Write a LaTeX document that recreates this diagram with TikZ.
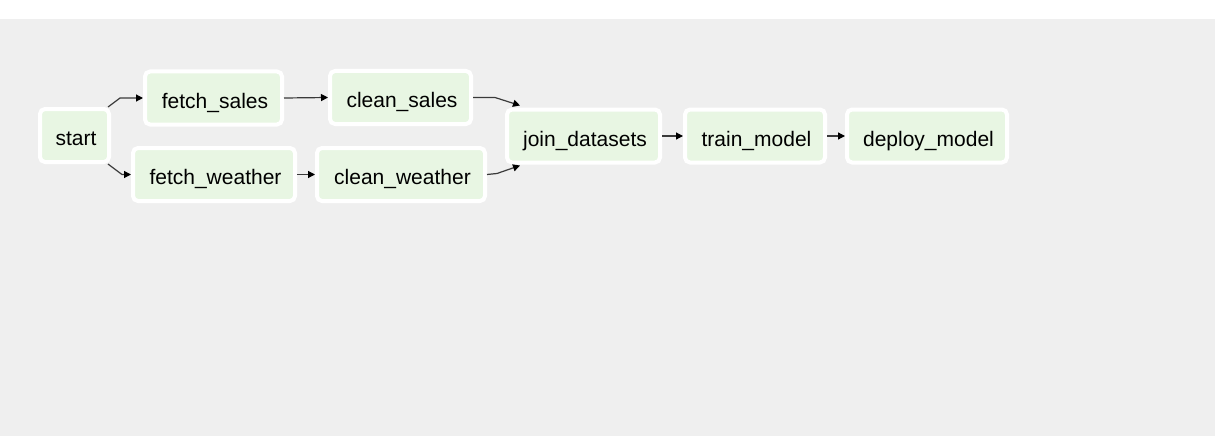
\documentclass[tikz,border=0pt]{standalone}
\usepackage{fontspec}
\setmainfont{Liberation Sans}
\usetikzlibrary{arrows.meta,calc}
\definecolor{bggray}{HTML}{EFEFEF}
\definecolor{taskfill}{HTML}{E8F6E3}
\definecolor{edgecol}{HTML}{3A3A3A}
\tikzset{
  task/.style={draw=white, line width=4pt, fill=taskfill, rounded corners=5pt,
    inner sep=0pt, outer sep=2pt, minimum height=53pt,
    text height=25pt, text depth=4.5pt,
    execute at begin node={\hspace*{3pt}},
    font=\fontsize{21}{25}\selectfont, text=black},
  edge/.style={draw=edgecol, line width=1.2pt,
    -{Triangle[length=7pt,width=7pt,color=black]}},
}
\begin{document}
\begin{tikzpicture}[x=1pt,y=-1pt]
\useasboundingbox (0,0) rectangle (1215,436);
\fill[white] (0,0) rectangle (1215,436);
\fill[bggray] (0,19) rectangle (1215,436);

\node[task, minimum width=69pt]  (start)  at (74.5,135.5) {start};
\node[task, minimum width=137pt] (fs)     at (213.5,98) {fetch\_sales};
\node[task, minimum width=162pt] (fw)     at (214,174.5) {fetch\_weather};
\node[task, minimum width=141pt] (cs)     at (400.5,97.5) {clean\_sales};
\node[task, minimum width=168pt] (cw)     at (401,174.5) {clean\_weather};
\node[task, minimum width=153pt] (join)   at (583.5,136) {join\_datasets};
\node[task, minimum width=140pt] (train)  at (755,136) {train\_model};
\node[task, minimum width=160pt] (deploy) at (927,136) {deploy\_model};

\draw[edge] ($(start.north east)+(-3,0)$) -- ($(fs.west)+(-23,0)$) -- (fs.west);
\draw[edge] ($(start.south east)+(-3,0)$) -- ($(fw.west)+(-9,0)$) -- (fw.west);
\draw[edge] (fs.east) -- (cs.west);
\draw[edge] (fw.east) -- (cw.west);
\draw[edge] (cs.east) -- ($(cs.east)+(22,0)$) -- ($(join.north west)+(15,-2)$);
\draw[edge] (cw.east) -- ($(cw.east)+(10,-1)$) -- ($(join.south west)+(15,1)$);
\draw[edge] (join.east) -- (train.west);
\draw[edge] (train.east) -- (deploy.west);
\end{tikzpicture}
\end{document}
